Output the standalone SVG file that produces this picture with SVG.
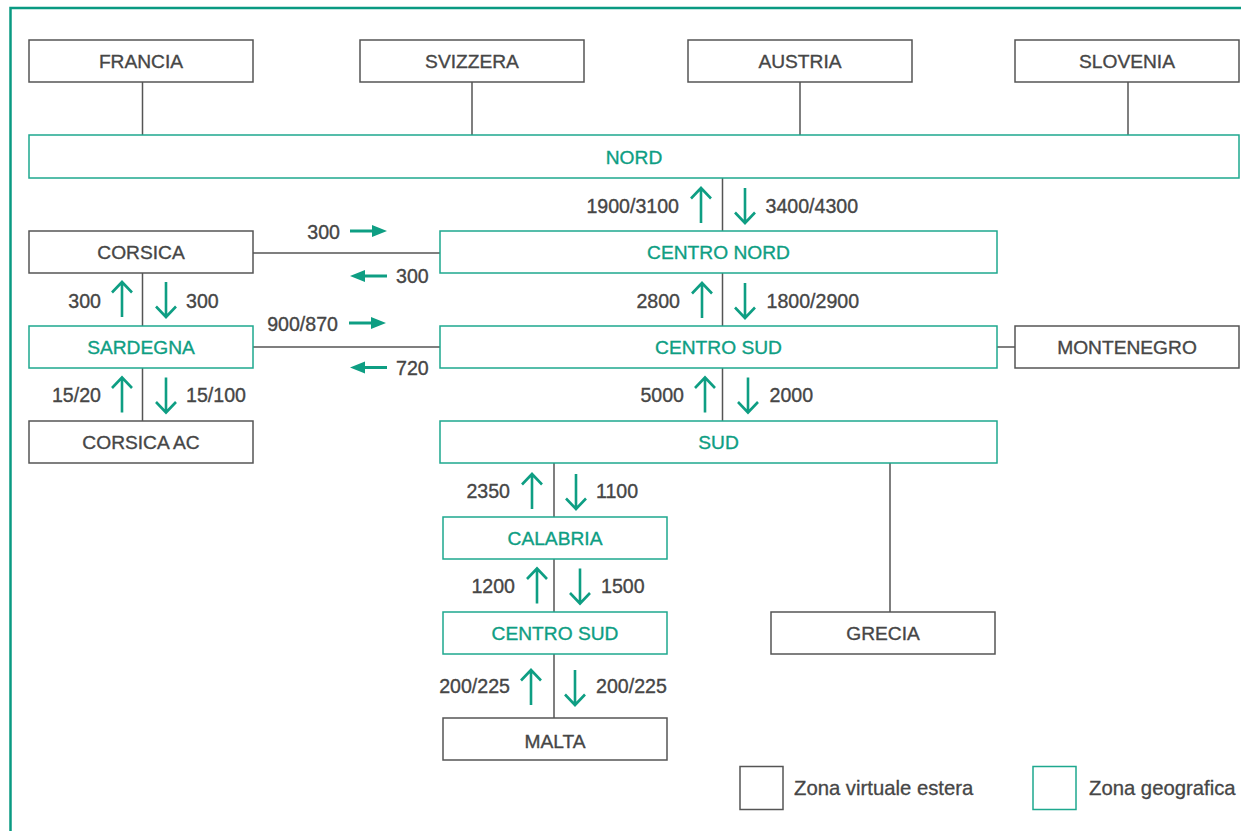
<svg xmlns="http://www.w3.org/2000/svg" width="1241" height="831" viewBox="0 0 1241 831">
<defs>
<style>
.bg{fill:#ffffff}
.frame{fill:none;stroke:#0a9a82;stroke-width:2.5}
.ext{fill:#ffffff;stroke:#555555;stroke-width:1.5}
.geo{fill:#ffffff;stroke:#1ea88e;stroke-width:1.5}
.conn{fill:none;stroke:#555555;stroke-width:1.5}
.lbl{font-family:"Liberation Sans",Arial,sans-serif;font-size:19.2px;fill:#464646;stroke:#464646;stroke-width:0.35}
.glbl{font-family:"Liberation Sans",Arial,sans-serif;font-size:19.2px;fill:#0e9e83;stroke:#0e9e83;stroke-width:0.35}
.num{font-family:"Liberation Sans",Arial,sans-serif;font-size:19.6px;fill:#464646;stroke:#464646;stroke-width:0.35}
.leg{font-family:"Liberation Sans",Arial,sans-serif;font-size:20.3px;fill:#464646;stroke:#464646;stroke-width:0.3}
.varr{fill:none;stroke:#0e9e83;stroke-width:2.6;stroke-linecap:butt;stroke-linejoin:miter}
.hl{fill:none;stroke:#0e9e83;stroke-width:3}
.hh{fill:#0e9e83}
</style>
<g id="up"><path class="varr" d="M0,1 V36 M-10,11.5 L0,1 L10,11.5"/></g>
<g id="down"><path class="varr" d="M0,0 V35 M-10,24.5 L0,35 L10,24.5"/></g>
<g id="right"><path class="hl" d="M0,0 H25"/><path class="hh" d="M22,-6 L37,0 L22,6 Z"/></g>
<g id="left"><path class="hl" d="M12,0 H37"/><path class="hh" d="M15,-6 L0,0 L15,6 Z"/></g>
</defs>
<rect class="bg" x="0" y="0" width="1241" height="831"/>
<rect class="frame" x="10.5" y="8" width="1300" height="900"/>

<g id="connectors">
<path class="conn" d="M142.5,82 V135 M472,82 V135 M800,82 V135 M1128,82 V135"/>
<path class="conn" d="M722.5,178 V231 M722.5,273 V326 M722.5,368 V421"/>
<path class="conn" d="M253,253 H440 M253,347 H440 M997,347 H1015"/>
<path class="conn" d="M142.5,273 V326 M142.5,368 V421"/>
<path class="conn" d="M554,463 V517 M554,559 V612 M554,654 V718"/>
<path class="conn" d="M890,463 V612"/>
</g>

<g id="flows">
<use href="#up" x="701" y="187"/><use href="#down" x="745" y="188"/>
<use href="#up" x="702" y="282"/><use href="#down" x="745" y="283"/>
<use href="#up" x="705" y="376.5"/><use href="#down" x="748" y="377.5"/>
<use href="#up" x="122" y="281"/><use href="#down" x="166" y="282"/>
<use href="#up" x="122" y="376.5"/><use href="#down" x="166" y="377.5"/>
<use href="#up" x="532" y="473"/><use href="#down" x="576" y="474"/>
<use href="#up" x="537" y="567.5"/><use href="#down" x="580" y="568.5"/>
<use href="#up" x="531" y="669"/><use href="#down" x="575" y="670"/>
<use href="#right" x="350" y="231"/>
<use href="#left" x="350" y="276"/>
<use href="#right" x="349" y="323"/>
<use href="#left" x="350" y="367.5"/>
<g text-anchor="end">
<text class="num" x="679" y="213">1900/3100</text>
<text class="num" x="680" y="307.5">2800</text>
<text class="num" x="684" y="402">5000</text>
<text class="num" x="101" y="307.5">300</text>
<text class="num" x="101" y="402">15/20</text>
<text class="num" x="510" y="498">2350</text>
<text class="num" x="515" y="593">1200</text>
<text class="num" x="510" y="693">200/225</text>
<text class="num" x="340" y="238.5">300</text>
<text class="num" x="338" y="330.5">900/870</text>
</g>
<text class="num" x="765.5" y="213">3400/4300</text>
<text class="num" x="766.5" y="307.5">1800/2900</text>
<text class="num" x="769.5" y="402">2000</text>
<text class="num" x="186" y="307.5">300</text>
<text class="num" x="186" y="402">15/100</text>
<text class="num" x="596" y="498">1100</text>
<text class="num" x="601" y="593">1500</text>
<text class="num" x="596" y="693">200/225</text>
<text class="num" x="396" y="283">300</text>
<text class="num" x="396" y="375">720</text>
</g>

<g id="francia"><rect class="ext" x="29" y="40" width="224" height="42"/><text class="lbl" x="141" y="68" text-anchor="middle">FRANCIA</text></g>
<g id="svizzera"><rect class="ext" x="360" y="40" width="224" height="42"/><text class="lbl" x="472" y="68" text-anchor="middle">SVIZZERA</text></g>
<g id="austria"><rect class="ext" x="688" y="40" width="224" height="42"/><text class="lbl" x="800" y="68" text-anchor="middle">AUSTRIA</text></g>
<g id="slovenia"><rect class="ext" x="1015" y="40" width="224" height="42"/><text class="lbl" x="1127" y="68" text-anchor="middle">SLOVENIA</text></g>
<g id="nord"><rect class="geo" x="29" y="135" width="1210" height="43"/><text class="glbl" x="634" y="163.5" text-anchor="middle">NORD</text></g>
<g id="corsica"><rect class="ext" x="29" y="231" width="224" height="42"/><text class="lbl" x="141" y="259" text-anchor="middle">CORSICA</text></g>
<g id="centro-nord"><rect class="geo" x="440" y="231" width="557" height="42"/><text class="glbl" x="718.5" y="259" text-anchor="middle">CENTRO NORD</text></g>
<g id="sardegna"><rect class="geo" x="29" y="326" width="224" height="42"/><text class="glbl" x="141" y="354" text-anchor="middle">SARDEGNA</text></g>
<g id="centro-sud"><rect class="geo" x="440" y="326" width="557" height="42"/><text class="glbl" x="718.5" y="354" text-anchor="middle">CENTRO SUD</text></g>
<g id="montenegro"><rect class="ext" x="1015" y="326" width="224" height="42"/><text class="lbl" x="1127" y="354" text-anchor="middle">MONTENEGRO</text></g>
<g id="corsica-ac"><rect class="ext" x="29" y="421" width="224" height="42"/><text class="lbl" x="141" y="449" text-anchor="middle">CORSICA AC</text></g>
<g id="sud"><rect class="geo" x="440" y="421" width="557" height="42"/><text class="glbl" x="718.5" y="449" text-anchor="middle">SUD</text></g>
<g id="calabria"><rect class="geo" x="443" y="517" width="224" height="42"/><text class="glbl" x="555" y="545" text-anchor="middle">CALABRIA</text></g>
<g id="centro-sud-2"><rect class="geo" x="443" y="612" width="224" height="42"/><text class="glbl" x="555" y="640" text-anchor="middle">CENTRO SUD</text></g>
<g id="grecia"><rect class="ext" x="771" y="612" width="224" height="42"/><text class="lbl" x="883" y="640" text-anchor="middle">GRECIA</text></g>
<g id="malta"><rect class="ext" x="443" y="718" width="224" height="42"/><text class="lbl" x="555" y="748" text-anchor="middle">MALTA</text></g>

<g id="legend">
<rect class="ext" x="740" y="766.5" width="43" height="43"/>
<text class="leg" x="794" y="795">Zona virtuale estera</text>
<rect class="geo" x="1033" y="766.5" width="43" height="43"/>
<text class="leg" x="1089" y="795">Zona geografica</text>
</g>
</svg>
